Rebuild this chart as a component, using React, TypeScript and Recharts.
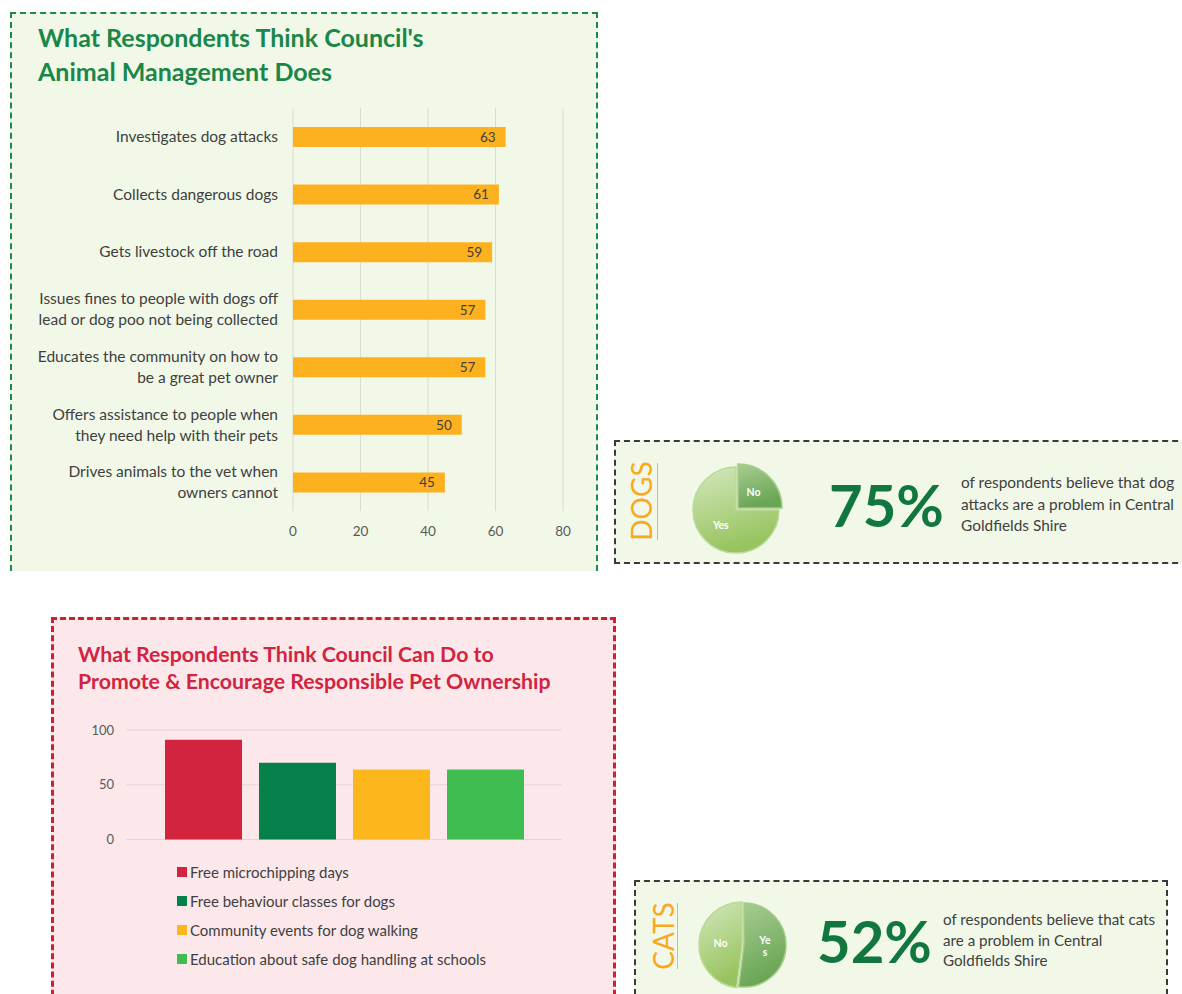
import React from 'react';
import {
  BarChart, Bar, XAxis, YAxis, CartesianGrid, LabelList, Legend,
  PieChart, Pie, Cell,
} from 'recharts';

// What council's animal management does (% of respondents)
const ACTIONS = [
  'Investigates dog attacks',
  'Collects dangerous dogs',
  'Gets livestock off the road',
  'Issues fines to people with dogs off\nlead or dog poo not being collected',
  'Educates the community on how to\nbe a great pet owner',
  'Offers assistance to people when\nthey need help with their pets',
  'Drives animals to the vet when\nowners cannot',
];
const ACTION_VALUES = [63, 61, 59, 57, 57, 50, 45];
const ACTION_TICKS = [0, 20, 40, 60, 80];

// What council can do to promote responsible pet ownership
const PROMOTE_LABELS = [
  'Free microchipping days',
  'Free behaviour classes for dogs',
  'Community events for dog walking',
  'Education about safe dog handling at schools',
];
const PROMOTE_VALUES = [91, 70, 64, 64];
const PROMOTE_COLORS = ['#d3243f', '#06804a', '#fdb71c', '#40bd50'];
const PROMOTE_TICKS = [0, 50, 100];

// Is it a problem? (%)
const DOG_SLICES = ['No', 'Yes'];
const DOG_SHARES = [25, 75];
const CAT_SLICES = ['Yes', 'No'];
const CAT_SHARES = [52, 48];

const FONT = 'Lato, "Open Sans", sans-serif';
const TEXT = '#404040';

const actionData = ACTIONS.map((name, i) => ({ name, value: ACTION_VALUES[i] }));
const promoteData = [
  PROMOTE_LABELS.reduce((row: any, _l, i) => { row['s' + i] = PROMOTE_VALUES[i]; return row; }, { name: 'All' }),
];
const dogData = DOG_SLICES.map((name, i) => ({ name, value: DOG_SHARES[i] }));
const catData = CAT_SLICES.map((name, i) => ({ name, value: CAT_SHARES[i] }));

const CategoryTick = (props: any) => {
  const { x, y, payload } = props;
  const lines = String(payload.value).split('\n');
  const lh = 21;
  const start = -((lines.length - 1) * lh) / 2;
  return (
    <text x={x} y={y} textAnchor="end" fill={TEXT} fontSize={15.5} fontFamily={FONT}>
      {lines.map((l, i) => (
        <tspan key={i} x={x} y={y + start + i * lh} dy="0.35em">{l}</tspan>
      ))}
    </text>
  );
};

const sliceLabel = (visible: string, wrap = false) => (props: any) => {
  const { cx, cy, midAngle, outerRadius } = props;
  const name = props.name ?? props.payload?.name;
  if (name !== visible) return <g />;
  const RAD = Math.PI / 180;
  const r = outerRadius * 0.5;
  const x = cx + r * Math.cos(-midAngle * RAD);
  const y = cy + r * Math.sin(-midAngle * RAD);
  const parts = wrap ? [name.slice(0, 2), name.slice(2)] : [name];
  const lh = 12;
  return (
    <text x={x} y={y} textAnchor="middle" fill="#ffffff" fontSize={10.5} fontWeight={700} fontFamily={FONT}>
      {parts.map((p, i) => (
        <tspan key={i} x={x} y={y - ((parts.length - 1) * lh) / 2 + i * lh} dy="0.35em">{p}</tspan>
      ))}
    </text>
  );
};

const Gradients = () => (
  <defs>
    <linearGradient id="lightGreen" x1="0" y1="0" x2="0.3" y2="1">
      <stop offset="0%" stopColor="#d3e7bd" />
      <stop offset="100%" stopColor="#98c45f" />
    </linearGradient>
    <linearGradient id="darkGreen" x1="0" y1="0" x2="0.3" y2="1">
      <stop offset="0%" stopColor="#a9cd93" />
      <stop offset="100%" stopColor="#68a554" />
    </linearGradient>
  </defs>
);

const ProblemPie = ({ data, first, wrapFirst, left, top }: any) => {
  const names = data.map((d: any) => d.name);
  const fillFor = (idx: number) => (idx === 0 ? 'url(#darkGreen)' : 'url(#lightGreen)');
  return (
    <div style={{ position: 'absolute', left, top }}>
      <PieChart width={110} height={110}>
        <Gradients />
        {/* rest of the pie */}
        <Pie
          data={data}
          dataKey="value"
          nameKey="name"
          cx={51}
          cy={55}
          outerRadius={43}
          startAngle={90}
          endAngle={-270}
          isAnimationActive={false}
          labelLine={false}
          label={sliceLabel(names[1])}
        >
          {data.map((_d: any, i: number) => (
            <Cell key={i} fill={i === 0 ? 'transparent' : fillFor(i)} stroke={i === 0 ? 'none' : '#bad996'} strokeWidth={1.5} />
          ))}
        </Pie>
        {/* exploded first slice */}
        <Pie
          data={data}
          dataKey="value"
          nameKey="name"
          cx={first.dx + 51}
          cy={first.dy + 55}
          outerRadius={first.r}
          startAngle={90}
          endAngle={-270}
          isAnimationActive={false}
          labelLine={false}
          label={sliceLabel(names[0], wrapFirst)}
        >
          {data.map((_d: any, i: number) => (
            <Cell key={i} fill={i === 0 ? fillFor(0) : 'transparent'} stroke={i === 0 ? '#a6cc86' : 'none'} strokeWidth={1.5} />
          ))}
        </Pie>
      </PieChart>
    </div>
  );
};

const Vertical = ({ text, cx, cy, lineX, lineTop, lineBottom }: any) => (
  <>
    <div
      style={{
        position: 'absolute', left: cx - 50, top: cy - 15, width: 100, height: 30,
        lineHeight: '30px', textAlign: 'center', fontSize: 28, color: '#f8a91d',
        transform: 'rotate(-90deg)', fontFamily: FONT,
      }}
    >
      {text}
    </div>
    <div style={{ position: 'absolute', left: lineX, top: lineTop, width: 1.5, height: lineBottom - lineTop, background: '#f6b548' }} />
  </>
);

const PromoteLegend = (props: any) => {
  const items = [...(props.payload || [])].sort(
    (a: any, b: any) => PROMOTE_LABELS.indexOf(a.value) - PROMOTE_LABELS.indexOf(b.value),
  );
  return (
    <div style={{ fontFamily: FONT, fontSize: 15, color: TEXT }}>
      {items.map((e: any, i: number) => (
        <div key={i} style={{ display: 'flex', alignItems: 'center', height: 29 }}>
          <span style={{ width: 10, height: 10, background: e.color, marginRight: 3, display: 'inline-block' }} />
          <span>{e.value}</span>
        </div>
      ))}
    </div>
  );
};

export default function App() {
  return (
    <div style={{ position: 'absolute', left: 0, top: 0, width: 1182, height: 994, overflow: 'hidden', background: '#ffffff', fontFamily: FONT }}>
      {/* panel 1 */}
      <div style={{ position: 'absolute', left: 10, top: 12, width: 584, height: 557, background: '#f1f8e8', borderTop: '2px dashed #1e8a4a', borderLeft: '2px dashed #1e8a4a', borderRight: '2px dashed #1e8a4a' }} />
      <div style={{ position: 'absolute', left: 38, top: 20, fontSize: 25, lineHeight: '34px', fontWeight: 700, color: '#1a8749' }}>
        What Respondents Think Council's<br />Animal Management Does
      </div>
      <div style={{ position: 'absolute', left: 10, top: 100 }}>
        <BarChart width={586} height={450} data={actionData} layout="vertical" margin={{ top: 8, right: 33, bottom: 10, left: 0 }}>
          <CartesianGrid horizontal={false} stroke="#d9dcd2" />
          <XAxis
            type="number"
            domain={[0, 80]}
            ticks={ACTION_TICKS}
            axisLine={false}
            tickLine={false}
            tickSize={0}
            tickMargin={15}
            height={29}
            tick={{ fill: '#595959', fontSize: 13.5, fontFamily: FONT }}
          />
          <YAxis
            type="category"
            dataKey="name"
            width={283}
            axisLine={false}
            tickLine={false}
            tickSize={0}
            tickMargin={15}
            interval={0}
            tick={<CategoryTick />}
          />
          <Bar dataKey="value" fill="#fdb11e" barSize={20} isAnimationActive={false}>
            <LabelList dataKey="value" position="insideRight" offset={10} fill={TEXT} fontSize={13.5} fontFamily={FONT} />
          </Bar>
        </BarChart>
      </div>

      {/* dogs panel */}
      <div style={{ position: 'absolute', left: 614, top: 440, width: 600, height: 120, background: '#f1f8e8', border: '2px dashed #3a3a3a' }} />
      <Vertical text="DOGS" cx={641} cy={501} lineX={656.5} lineTop={463} lineBottom={540} />
      <ProblemPie data={dogData} first={{ dx: 2, dy: -2, r: 44 }} left={680} top={450} />
      <div style={{ position: 'absolute', left: 829, top: 470, fontSize: 58, lineHeight: '70px', fontWeight: 700, color: '#11773f' }}>
        {DOG_SHARES[1]}%
      </div>
      <div style={{ position: 'absolute', left: 961, top: 472, fontSize: 15.4, lineHeight: '21.5px', color: TEXT }}>
        of respondents believe that dog<br />attacks are a problem in Central<br />Goldfields Shire
      </div>

      {/* panel 3 */}
      <div style={{ position: 'absolute', left: 51, top: 617, width: 559, height: 400, background: '#fce8eb', border: '3px dashed #d0202f' }} />
      <div style={{ position: 'absolute', left: 78, top: 641, fontSize: 21.3, lineHeight: '27px', fontWeight: 700, color: '#d2233f' }}>
        What Respondents Think Council Can Do to<br />Promote &amp; Encourage Responsible Pet Ownership
      </div>
      <div style={{ position: 'absolute', left: 60, top: 715 }}>
        <BarChart width={520} height={260} data={promoteData} margin={{ top: 15, right: 18, bottom: 135.5, left: 26 }} barGap={17} barCategoryGap={0}>
          <CartesianGrid vertical={false} stroke="#e8d4d7" />
          <XAxis dataKey="name" hide />
          <YAxis
            domain={[0, 100]}
            ticks={PROMOTE_TICKS}
            width={40}
            axisLine={false}
            tickLine={false}
            tickSize={0}
            tickMargin={12}
            tick={{ fill: '#595959', fontSize: 13, fontFamily: FONT }}
          />
          <Legend
            layout="vertical"
            align="center"
            verticalAlign="middle"
            wrapperStyle={{ left: 117, top: 142.5, width: 400 }}
            content={<PromoteLegend />}
          />
          {PROMOTE_LABELS.map((label, i) => (
            <Bar key={label} dataKey={'s' + i} name={label} fill={PROMOTE_COLORS[i]} barSize={77} isAnimationActive={false} />
          ))}
        </BarChart>
      </div>

      {/* cats panel */}
      <div style={{ position: 'absolute', left: 634, top: 880, width: 530, height: 200, background: '#f1f8e8', border: '2px dashed #3a3a3a' }} />
      <Vertical text="CATS" cx={663} cy={936} lineX={676.5} lineTop={903} lineBottom={969} />
      <ProblemPie data={catData} first={{ dx: 2, dy: 0, r: 42 }} wrapFirst left={686} top={885} />
      <div style={{ position: 'absolute', left: 817, top: 906, fontSize: 58, lineHeight: '70px', fontWeight: 700, color: '#11773f' }}>
        {CAT_SHARES[0]}%
      </div>
      <div style={{ position: 'absolute', left: 943, top: 909, fontSize: 15.2, lineHeight: '20.5px', color: TEXT }}>
        of respondents believe that cats<br />are a problem in Central<br />Goldfields Shire
      </div>
    </div>
  );
}
